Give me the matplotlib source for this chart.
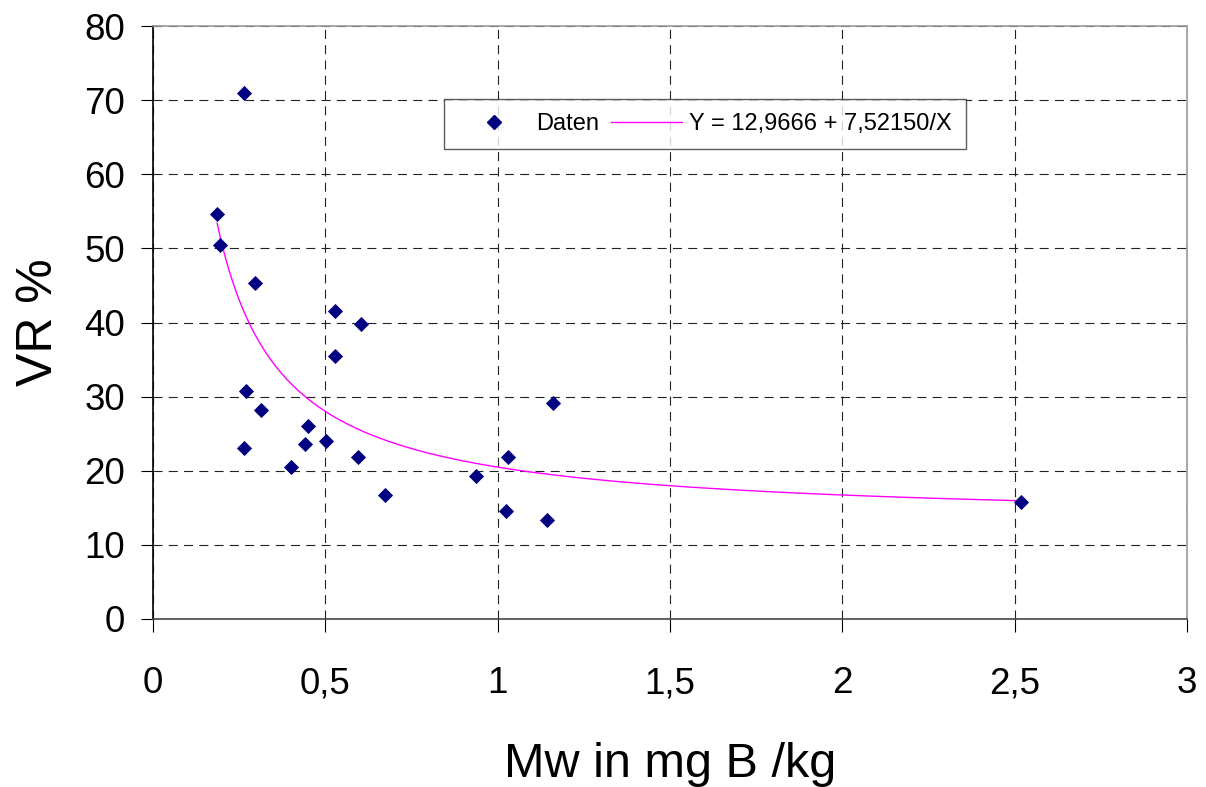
import numpy as np
import matplotlib
matplotlib.use("Agg")
import matplotlib.pyplot as plt
from matplotlib.lines import Line2D
from matplotlib.ticker import FuncFormatter

plt.rcParams['font.family'] = ['Liberation Sans', 'DejaVu Sans']
plt.rcParams['lines.scale_dashes'] = False

# measured boron content vs VR
mw = [0.263, 0.186, 0.193, 0.297, 0.528, 0.604, 0.528, 0.271, 0.314, 1.160, 0.451,
      0.263, 0.442, 0.502, 0.596, 1.031, 0.400, 0.938, 0.673, 1.024, 1.144, 2.519]
vr = [71.0, 54.7, 50.5, 45.3, 41.5, 39.8, 35.5, 30.8, 28.2, 29.1, 26.1,
      23.1, 23.6, 24.0, 21.9, 21.9, 20.5, 19.3, 16.7, 14.6, 13.3, 15.8]

# fit Y = a + b/X
fit_a = 12.9666
fit_b = 7.52150

x_ticks = [0, 0.5, 1, 1.5, 2, 2.5, 3]
y_ticks = [0, 10, 20, 30, 40, 50, 60, 70, 80]

W, H = 1206, 787
fig = plt.figure(figsize=(W / 100, H / 100), dpi=100)
ax = fig.add_axes([153 / W, 1 - 619 / H, (1187 - 153) / W, (619 - 26) / H])

xf = np.linspace(min(mw), max(mw), 300)
ax.plot(xf, fit_a + fit_b / xf, color='#ff00ff', lw=1.0, zorder=3)
ax.plot(mw, vr, linestyle='none', marker='D', markersize=7.3, color='#000080',
        markeredgewidth=0.6, zorder=4)

ax.set_xlim(0, 3)
ax.set_ylim(0, 80)
ax.set_xticks(x_ticks)
ax.set_yticks(y_ticks)
comma = FuncFormatter(lambda v, p: ('%g' % v).replace('.', ','))
ax.xaxis.set_major_formatter(comma)
ax.yaxis.set_major_formatter(comma)

ax.grid(True, color='#222222', linestyle=(0, (6.5, 4.5)), linewidth=0.8)
ax.set_axisbelow(True)
ax.tick_params(axis='both', direction='out', length=9, width=0.8, labelsize=26.5)
ax.tick_params(axis='x', pad=25)
ax.tick_params(axis='y', pad=11)

ax.spines['left'].set_color('black')
ax.spines['bottom'].set_color('#444444')
ax.spines['top'].set_color('#999999')
ax.spines['right'].set_color('#999999')
for s in ax.spines.values():
    s.set_linewidth(1.2)

ax.set_xlabel('Mw in mg B /kg', fontsize=35)
ax.xaxis.set_label_coords((670.5 - 153) / 1034, (619 - 777) / 593)
ax.xaxis.label.set_verticalalignment('baseline')
ax.set_ylabel('VR %', fontsize=36, labelpad=16)

handles = [Line2D([], [], linestyle='none', marker='D', markersize=7.3, color='#000080'),
           Line2D([], [], color='#ff00ff', lw=1.0)]
labels = ['Daten', 'Y = 12,9666 + 7,52150/X']
leg = ax.legend(handles, labels, loc='upper left',
                bbox_to_anchor=((444 - 153) / 1034, (619 - 99) / 593), borderaxespad=0,
                ncol=2, fontsize=17, frameon=True, fancybox=False, edgecolor='#333333',
                borderpad=0.6, handlelength=3.0, columnspacing=0.5, handletextpad=0.3)
leg.get_frame().set_linewidth(1.0)

fig.savefig('out.png', dpi=100)
